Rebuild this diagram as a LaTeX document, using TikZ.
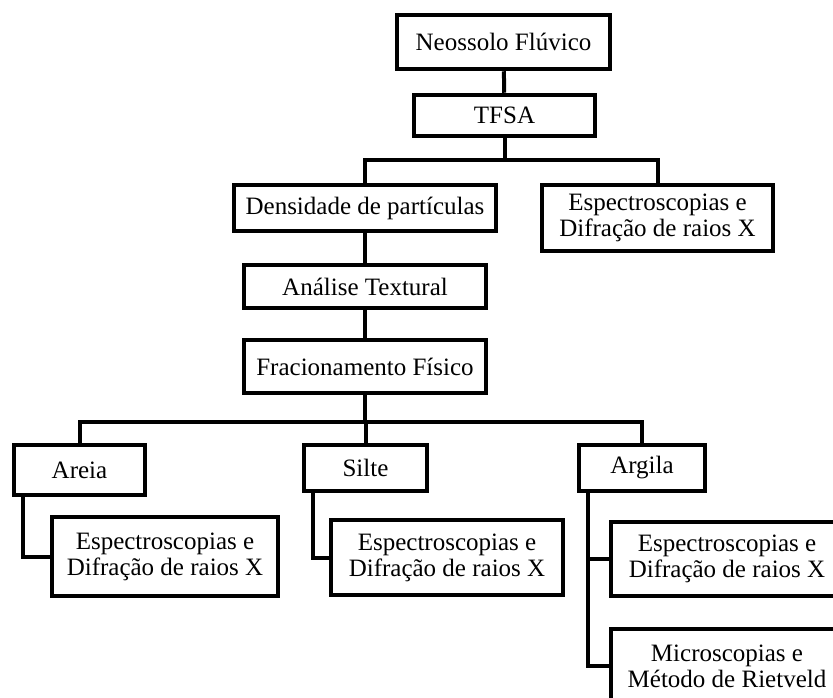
\documentclass[tikz,border=0pt]{standalone}
\usepackage{fontspec}
\setmainfont{Liberation Serif}
\usetikzlibrary{positioning}

\begin{document}
\begin{tikzpicture}[x=1pt,y=-1pt,
        caixa/.style={draw, line width=4.5pt, inner sep=0pt, align=center,
          font=\fontsize{25}{26}\selectfont},
        liga/.style={line width=4pt}]
        \useasboundingbox (0,0) rectangle (833,698);
        \clip (0,0) rectangle (833,698);

        % topo
        \node[caixa, minimum width=213, minimum height=54] (neo) at (503.5,42) {Neossolo Flúvico};
        \node[caixa, minimum width=181, minimum height=41] (tfsa) at (504.5,115.5) {TFSA};
        \node[caixa, minimum width=262, minimum height=46] (dens) at (365,208) {Densidade de partículas};
        \node[caixa, minimum width=231, minimum height=66] (espT) at (657.5,218) {Espectroscopias e\\Difração de raios X};
        \node[caixa, minimum width=242, minimum height=43] (anal) at (365,286.5) {Análise Textural};
        \node[caixa, minimum width=242, minimum height=53] (frac) at (365,366.5) {Fracionamento Físico};

        % frações
        \node[caixa, minimum width=131, minimum height=50] (areia) at (79.5,470) {Areia};
        \node[caixa, minimum width=123, minimum height=46] (silte) at (365.5,468) {Silte};
        \node[caixa, minimum width=126, minimum height=46] (argila) at (642,468) {Argila};

        \node[caixa, minimum width=226, minimum height=79] (espAr) at (165,556.5) {Espectroscopias e\\Difração de raios X};
        \node[caixa, minimum width=232, minimum height=75] (espSi) at (447,557.5) {Espectroscopias e\\Difração de raios X};
        \node[caixa, minimum width=232, minimum height=74] (espAg) at (727,559) {Espectroscopias e\\Difração de raios X};
        \node[caixa, minimum width=232, minimum height=74] (micro) at (727,666) {Microscopias e\\Método de Rietveld};

        \coordinate (b1) at (0,160);
        \coordinate (b2) at (0,422);

        \draw[liga] (neo) -- (tfsa);
        \draw[liga] (tfsa) -- (tfsa |- b1);
        \draw[liga] (dens) -- (dens |- b1) -- (espT |- b1) -- (espT);
        \draw[liga] (dens) -- (anal);
        \draw[liga] (anal) -- (frac);
        \draw[liga] (frac) -- (frac |- b2);
        \draw[liga] (areia) -- (areia |- b2) -- (argila |- b2) -- (argila);
        \draw[liga] (silte) -- (silte |- b2);

        \foreach \f/\e in {areia/espAr, silte/espSi, argila/espAg, argila/micro}
          \draw[liga] ([xshift=11pt]\f.south west) |- (\e.west);
\end{tikzpicture}
\end{document}
